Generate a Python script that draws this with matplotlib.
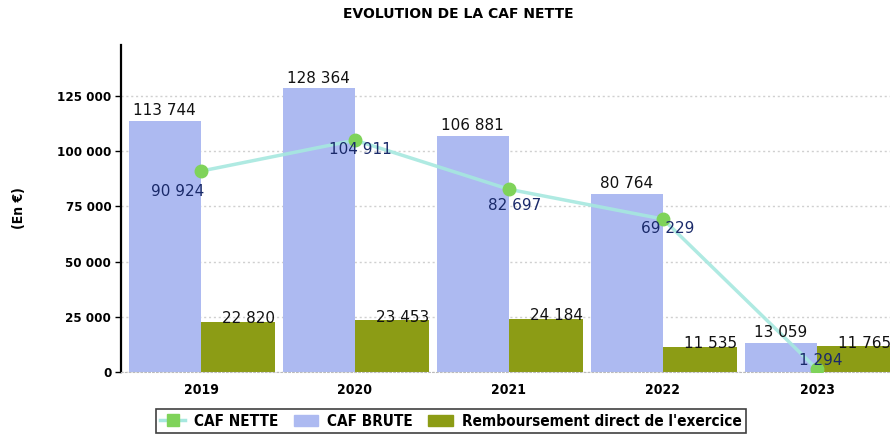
import matplotlib
matplotlib.use("Agg")
import matplotlib.pyplot as plt
from matplotlib.lines import Line2D
from matplotlib.patches import Patch
import numpy as np

years = ["2019", "2020", "2021", "2022", "2023"]
caf_brute = [113744, 128364, 106881, 80764, 13059]
remboursement = [22820, 23453, 24184, 11535, 11765]
caf_nette = [90924, 104911, 82697, 69229, 1294]
yticks = [0, 25000, 50000, 75000, 100000, 125000]

BLUE = "#adbaf1"
OLIVE = "#8c9c15"
LINE = "#a6e8df"
MARK = "#7fd35a"
NARROW = {"family": "DejaVu Sans", "stretch": "condensed", "weight": "bold"}

def fmt(v):
    return f"{v:,}".replace(",", " ")

fig = plt.figure(figsize=(8.9, 4.47), dpi=100)
ax = fig.add_axes([121/890, 75/447, (905-121)/890, (372-45)/447])

x = np.arange(len(years))
w = 0.47
b1 = ax.bar(x - w/2, caf_brute, width=w, color=BLUE, zorder=2)
b2 = ax.bar(x + w/2 + 0.005, remboursement, width=w + 0.01, color=OLIVE, zorder=2)

for rect, v in zip(b1, caf_brute):
    ax.annotate(fmt(v), (rect.get_x() + rect.get_width()/2, v), xytext=(0, 2),
                textcoords="offset points", ha="center", va="bottom",
                fontsize=11, color="#111111", zorder=5)
for rect, v in zip(b2, remboursement):
    ax.annotate(fmt(v), (rect.get_x() + rect.get_width(), v), xytext=(0, 2),
                textcoords="offset points", ha="right", va="center",
                fontsize=11, color="#111111", zorder=5)

ax.plot(x, caf_nette, color=LINE, lw=2.5, zorder=3, alpha=0.9)
ax.plot(x, caf_nette, ls="none", marker="o", ms=9, color=MARK, zorder=4)
offs = [(-16.5, -15), (4, -7), (4.3, -11.5), (3.6, -6.5), (3, 6.5)]
for xi, v, o in zip(x, caf_nette, offs):
    ax.annotate(fmt(v), (xi, v), xytext=o, textcoords="offset points",
                ha="center", va="center", fontsize=11, color="#1a2a6a", zorder=6)

ax.set_xlim((121-201)/154, (905-201)/154)
ax.set_ylim(0, 148000)
ax.set_yticks(yticks)
ax.set_yticklabels([fmt(t) for t in yticks], fontsize=9.5, **NARROW)
ax.set_xticks(x)
ax.set_xticklabels(years, fontsize=10, **NARROW)
ax.tick_params(axis="x", length=0, pad=8)
ax.tick_params(axis="y", length=4, width=1, pad=3)
ax.grid(axis="y", ls=(0, (1.5, 2)), color="#d0d0d0", lw=1, zorder=0)
ax.set_axisbelow(True)
for s in ["top", "right"]:
    ax.spines[s].set_visible(False)
ax.spines["left"].set_linewidth(1.6)
ax.spines["bottom"].set_linestyle((0, (1.5, 2)))
ax.spines["bottom"].set_color("#bbbbbb")
ax.set_ylabel("(En €)", fontsize=10, labelpad=22, **NARROW)

fig.text(458/890, 1 - 14/447, "EVOLUTION DE LA CAF NETTE", ha="center", va="center",
         fontsize=10, family="DejaVu Sans", weight="bold")

handles = [Line2D([0], [0], color=LINE, lw=2.5, marker="s", ms=8, markerfacecolor=MARK, markeredgecolor=MARK),
           Patch(color=BLUE), Patch(color=OLIVE)]
leg = fig.legend(handles, ["CAF NETTE", "CAF BRUTE", "Remboursement direct de l'exercice"],
                 loc="center", bbox_to_anchor=(451/890, 1 - 421/447), ncol=3, frameon=True,
                 fancybox=False, edgecolor="#111111",
                 prop={"family": "DejaVu Sans", "stretch": "condensed", "weight": "bold", "size": 11},
                 handlelength=1.6, handletextpad=0.6, columnspacing=1.0, borderpad=0.3)
leg.get_frame().set_linewidth(1.2)

fig.savefig("out.png", dpi=100)
